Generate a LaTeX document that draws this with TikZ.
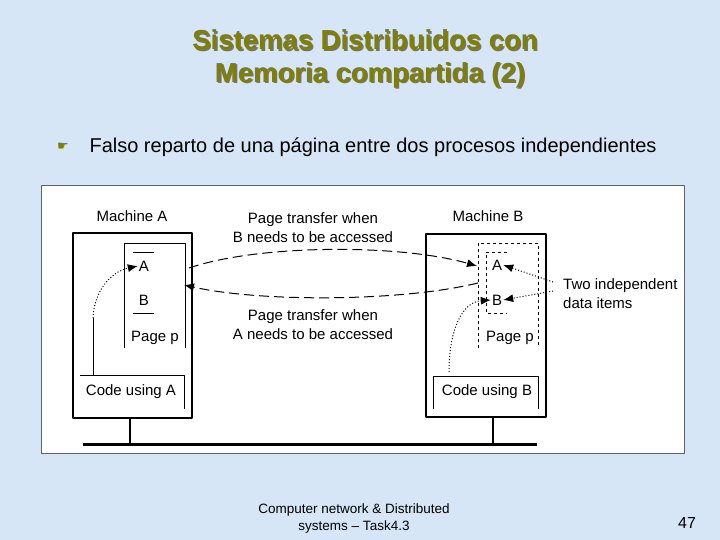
\documentclass[tikz,border=0pt]{standalone}
\usepackage{fontspec}
\setmainfont{Liberation Sans}
\newfontfamily\symfont{DejaVu Sans}
\usetikzlibrary{arrows.meta}
\usetikzlibrary{shapes, positioning}

\definecolor{slidebg}{HTML}{D6E6F6}
\definecolor{titleolive}{HTML}{808000}
\definecolor{panelframe}{HTML}{5A6470}

\tikzset{
  lbl/.style={inner sep=1pt, font=\fontsize{15}{19}\selectfont, align=center},
  thinbox/.style={line width=1pt},
  machinebox/.style={line width=2pt},
  xfer/.style={->, line width=1pt, dash pattern=on 10pt off 5pt},
  hint/.style={->, line width=1pt, dotted},
}

\begin{document}
\begin{tikzpicture}[>={Latex[length=10pt,width=8pt]},line join=bevel,x=1pt,y=-1pt]
%%
\path[fill=slidebg] (0,0) rectangle (720,540);
\useasboundingbox (0,0) rectangle (720,540);
% title
\node (title_1_sh) at (366.5,41.5) [text=black!55, font=\fontsize{27.5}{32}\bfseries] {Sistemas Distribuidos con};
\node (title_2_sh) at (371.5,76.5) [text=black!55, font=\fontsize{27.5}{32}\bfseries] {Memoria compartida (2)};
\node (title_1) at (365,40) [text=titleolive, font=\fontsize{27.5}{32}\bfseries] {Sistemas Distribuidos con};
\node (title_2) at (370,75) [text=titleolive, font=\fontsize{27.5}{32}\bfseries] {Memoria compartida (2)};
\node (bullet) at (63,147) [text=titleolive, font=\symfont\fontsize{13}{15}\selectfont] {☛};
\node (point) at (86,147) [anchor=west, font=\fontsize{20}{24}\selectfont] {Falso reparto de una página entre dos procesos independientes};
% panel
\draw[fill=white, draw=panelframe, line width=1pt] (41,186) rectangle (684,453);
% machine A
\node (machine_a) at (132,216) [lbl] {Machine A};
\draw[machinebox] (73,233) rectangle (192,418);
\draw[thinbox] (124,348) -- (124,243) -- (185,243) -- (185,348);
\draw[thinbox] (133,252) -- (154,252);
\draw[thinbox] (133,313) -- (154,313);
\node (a_item_a) at (144,266) [lbl] {A};
\node (a_item_b) at (144,300) [lbl] {B};
\node (a_page) at (155,338) [lbl] {Page p};
\draw[thinbox] (80,375) -- (184,375) -- (184,409);
\node (a_code) at (131,392) [lbl] {Code using A};
\coordinate (a_use) at (93,318);
\draw[thinbox] (93,375) -- (a_use);
\draw[hint] (a_use) .. controls (94,292) and (110,272) .. (a_item_a.west);
% machine B
\node (machine_b) at (488,216) [lbl] {Machine B};
\draw[machinebox] (426,234) rectangle (546,417);
\draw[thinbox, dashed] (478,348) -- (478,243) -- (538,243) -- (538,348);
\draw[thinbox, dashed] (507,252) -- (486,252) -- (486,313) -- (507,313);
\node (b_item_a) at (497,265) [lbl] {A};
\node (b_item_b) at (497,300) [lbl] {B};
\node (b_page) at (510,338) [lbl] {Page p};
\draw[thinbox] (433,409) -- (433,376) -- (538,376) -- (538,409);
\node (b_code) at (487,392) [lbl] {Code using B};
\coordinate (b_use) at (449,372);
\draw[hint] (b_use) .. controls (449,330) and (462,302) .. (b_item_b.west);
% data items
\node (items) at (562,294) [lbl, anchor=west, align=left] {Two independent\\data items};
\coordinate (items_a) at (553,282);
\coordinate (items_b) at (553,291);
\draw[hint] (items_a) -- (b_item_a.east);
\draw[hint] (items_b) -- (b_item_b.east);
% page transfers
\node (xfer_b) at (313,228) [lbl] {Page transfer when\\B needs to be accessed};
\node (xfer_a) at (313,325) [lbl] {Page transfer when\\A needs to be accessed};
\coordinate (a_out) at (189,268);
\coordinate (b_in) at (477,266);
\coordinate (b_out) at (478,283);
\coordinate (a_in) at (184,285);
\draw[xfer] (a_out) .. controls (260,244) and (400,244) .. (b_in);
\draw[xfer] (b_out) .. controls (400,302) and (260,302) .. (a_in);
% network
\draw[line width=3pt] (83,444) -- (537,444);
\draw[line width=2.5pt] (130,418) -- (130,444);
\draw[line width=2.5pt] (493,417) -- (493,444);
% footer
\node (footer) at (354,519) [align=center, font=\fontsize{13.5}{17}\selectfont] {Computer network \& Distributed\\systems – Task4.3};
\node (page_no) at (687,523) [font=\fontsize{16}{19}\selectfont] {47};
%
\end{tikzpicture}
\end{document}
